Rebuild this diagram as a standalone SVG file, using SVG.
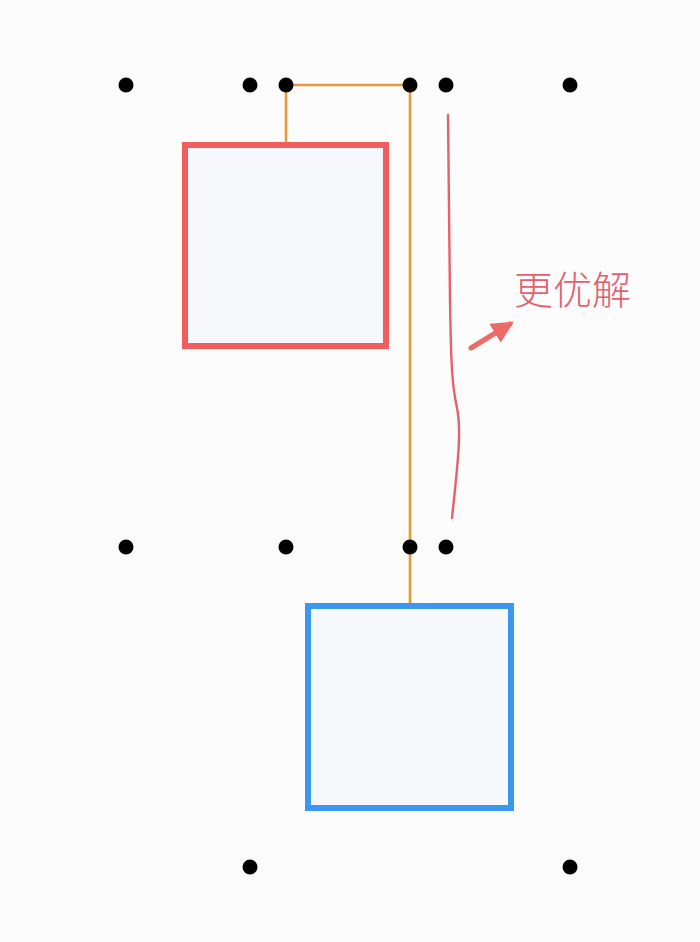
<svg xmlns="http://www.w3.org/2000/svg" width="700" height="942" viewBox="0 0 700 942">
  <style>
    .dot { fill: #000000; }
    .conn { fill: none; stroke: #E89A3A; stroke-width: 2.6; }
    .box { fill: #F7F8FC; stroke-width: 6; }
    .note { fill: none; stroke: #E8606C; stroke-width: 2.4; stroke-linecap: round; }
    .label { font-family: "Noto Sans CJK SC", "Noto Sans", sans-serif; font-size: 39px; font-weight: 300; fill: #E2606C; }
  </style>
  <defs>
    <marker id="ah" viewBox="0 0 10 10" refX="8" refY="5" markerWidth="4.4" markerHeight="4.4" orient="auto" markerUnits="strokeWidth">
      <path d="M0 0 L10 5 L0 10 Z" fill="#EE6A66"/>
    </marker>
  </defs>
  <rect x="0" y="0" width="700" height="942" fill="#FCFCFD"/>

  <g id="connectors">
    <polyline class="conn" points="286,142 286,85 410,85 410,603"/>
  </g>

  <g id="red-box">
    <rect class="box" x="185" y="145" width="201" height="201" stroke="#F05E5E"/>
  </g>
  <g id="blue-box">
    <rect class="box" x="308" y="606" width="203" height="202" stroke="#3C97F2"/>
  </g>

  <g id="dots">
    <circle class="dot" cx="126" cy="85" r="7.5"/>
    <circle class="dot" cx="250" cy="85" r="7.5"/>
    <circle class="dot" cx="286" cy="85" r="7.5"/>
    <circle class="dot" cx="410" cy="85" r="7.5"/>
    <circle class="dot" cx="446" cy="85" r="7.5"/>
    <circle class="dot" cx="570" cy="85" r="7.5"/>
    <circle class="dot" cx="126" cy="547" r="7.5"/>
    <circle class="dot" cx="286" cy="547" r="7.5"/>
    <circle class="dot" cx="410" cy="547" r="7.5"/>
    <circle class="dot" cx="446" cy="547" r="7.5"/>
    <circle class="dot" cx="250" cy="867" r="7.5"/>
    <circle class="dot" cx="570" cy="867" r="7.5"/>
  </g>

  <g id="annotation">
    <path class="note" d="M448 115 L450 300 C451 365 452 385 457 408 C462 432 457 470 452 518"/>
    <line x1="471" y1="348" x2="510" y2="324" stroke="#EE6A66" stroke-width="5" stroke-linecap="round" marker-end="url(#ah)"/>
    <text class="label" x="514" y="304">更优解</text>
  </g>
</svg>
